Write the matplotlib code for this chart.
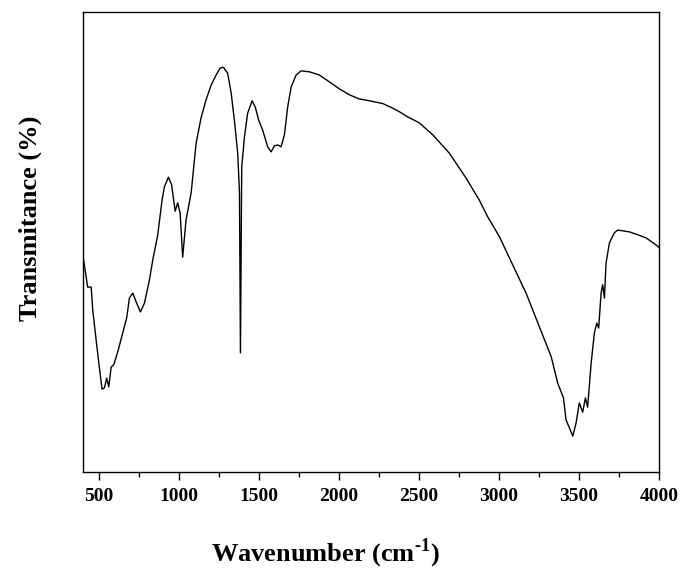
import numpy as np
import matplotlib.pyplot as plt
from matplotlib.ticker import MultipleLocator

# points (wavenumber cm-1, transmittance in arbitrary %)
wavenumber = [400, 402, 415, 429, 451, 461, 482, 502, 519, 534, 548, 561, 576, 592,
              617, 648, 673, 690, 711, 732, 759, 784, 815, 836, 867, 894, 909, 934,
              954, 976, 992, 1007, 1023, 1044, 1076, 1107, 1138, 1169, 1201, 1232,
              1257, 1277, 1304, 1326, 1346, 1367, 1378, 1384, 1392, 1409, 1429, 1457,
              1477, 1498, 1523, 1554, 1576, 1596, 1617, 1638, 1659, 1679, 1701, 1732,
              1763, 1815, 1877, 1940, 2002, 2065, 2127, 2190, 2273, 2336, 2378, 2429,
              2502, 2586, 2690, 2794, 2877, 2929, 3002, 3086, 3169, 3252, 3326, 3367,
              3403, 3419, 3440, 3461, 3482, 3502, 3523, 3540, 3554, 3576, 3596, 3611,
              3623, 3638, 3648, 3659, 3669, 3690, 3721, 3742, 3815, 3857, 3919, 3992,
              4000]
transmittance = [49.0, 46.5, 43.5, 40.2, 40.2, 35.2, 28.7, 22.8, 18.0, 18.3, 20.4, 18.5,
                 22.8, 23.3, 26.1, 30.2, 33.5, 37.8, 38.9, 37.0, 34.8, 36.7, 41.7, 46.1,
                 51.5, 59.1, 62.0, 64.1, 62.4, 56.7, 58.5, 56.3, 46.7, 54.8, 60.7, 71.5,
                 77.0, 80.9, 84.1, 86.3, 87.8, 88.0, 86.7, 82.4, 76.5, 69.3, 60.7, 25.9,
                 66.3, 72.8, 78.0, 80.7, 79.3, 76.5, 74.3, 70.7, 69.6, 70.9, 71.1, 70.7,
                 73.3, 79.3, 83.7, 86.3, 87.2, 87.0, 86.3, 84.8, 83.3, 82.0, 81.1, 80.7,
                 80.1, 79.1, 78.3, 77.2, 75.9, 73.3, 69.3, 63.9, 59.1, 55.5, 51.2, 45.0,
                 38.9, 31.6, 25.1, 19.3, 16.1, 11.3, 9.6, 7.8, 10.7, 15.0, 13.0, 16.1,
                 14.1, 23.7, 30.2, 32.4, 31.3, 38.9, 40.7, 37.8, 45.4, 49.8, 52.0, 52.6,
                 52.2, 51.7, 50.9, 49.1, 48.8]

plt.rcParams['font.family'] = ['Liberation Serif', 'DejaVu Serif']
plt.rcParams['font.weight'] = 'bold'
plt.rcParams['mathtext.fontset'] = 'custom'
plt.rcParams['mathtext.rm'] = 'Liberation Serif:bold'
plt.rcParams['mathtext.bf'] = 'Liberation Serif:bold'

fig = plt.figure(figsize=(6.85, 5.79), dpi=100)
ax = fig.add_axes([83/685, 1-472/579, 576/685, 460/579])
ax.plot(wavenumber, transmittance, color='black', linewidth=1.0)

ax.set_xlim(400, 4000)
ax.set_ylim(0, 100)
ax.xaxis.set_major_locator(MultipleLocator(500))
ax.xaxis.set_minor_locator(MultipleLocator(250))
ax.tick_params(axis='x', which='major', direction='out', length=5.5, width=1, pad=6,
               labelsize=14)
ax.tick_params(axis='x', which='minor', direction='out', length=3.5, width=1)
ax.set_yticks([])
for sp in ax.spines.values():
    sp.set_linewidth(1.0)

# \text{-} keeps a plain hyphen in the superscript instead of a minus sign
fig.text(325/685, 1-553/579, 'Wavenumber (cm$^{\\text{-}1}$)', ha='center',
         va='center', fontsize=19, fontweight='bold')
fig.text(30/685, 1-218/579, 'Transmitance (%)', ha='center', va='center', rotation=90,
         fontsize=19, fontweight='bold')

fig.savefig('out.png', dpi=100)
